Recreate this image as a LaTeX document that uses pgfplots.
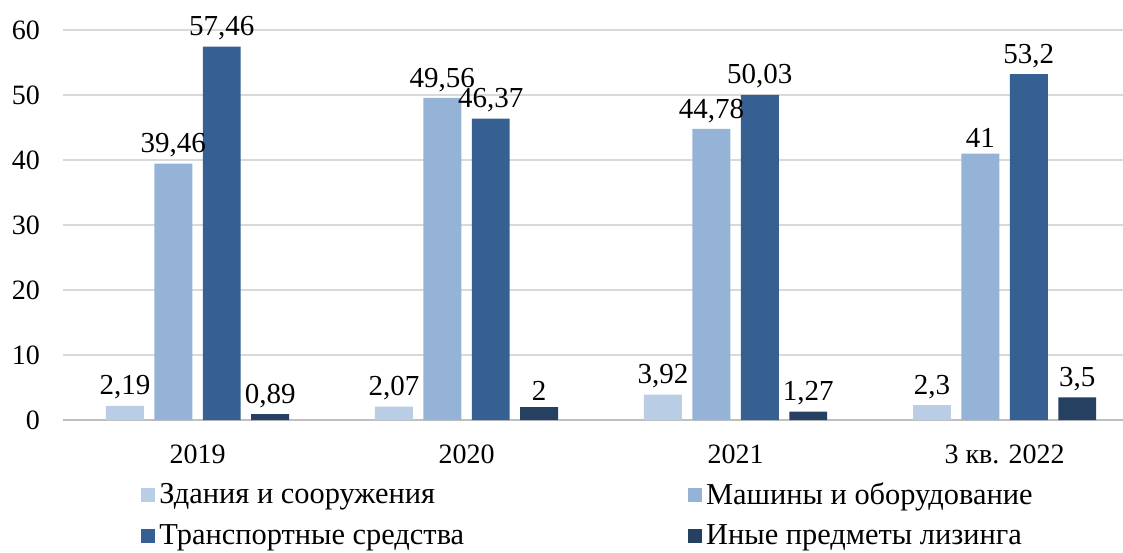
\documentclass[border=0pt]{standalone}
\usepackage{fontspec}
\setmainfont{Liberation Serif}
\usepackage{pgfplots}
\pgfplotsset{compat=1.18}
\definecolor{c1}{HTML}{B9CDE5}
\definecolor{c2}{HTML}{95B3D7}
\definecolor{c3}{HTML}{376092}
\definecolor{c4}{HTML}{254061}
\begin{document}
\begin{tikzpicture}[font=\fontsize{14}{16}\selectfont]
\useasboundingbox (-31.5pt,-66pt) rectangle (530pt,210pt);
\begin{axis}[
  at={(0,0)}, anchor=south west,
  scale only axis, width=530pt, height=195pt,
  ybar, bar width=0.141,
  xmin=-0.5, xmax=3.44, ymin=0, ymax=60,
  xtick={0,1,2,3}, xticklabels={2019,2020,2021,3 кв. 2022},
  ytick={0,10,...,60},
  major tick length=0pt,
  /pgf/number format/assume math mode=true,
  /pgf/number format/use comma,
  axis x line*=bottom, axis y line*=left,
  y axis line style={draw=none},
  x axis line style={-, draw={rgb,255:red,191;green,191;blue,191}, line width=1pt},
  ymajorgrids, grid style={draw={rgb,255:red,217;green,217;blue,217}, line width=1pt},
  yticklabel style={xshift=-8pt},
  xticklabel style={yshift=-9pt},
  nodes near coords,
  nodes near coords style={font=\fontsize{14.5}{16}\selectfont, inner sep=2pt, yshift=1pt},
  legend columns=2,
  legend cell align=left,
  legend style={draw=none, fill=none, at={(axis description cs:0.068,-0.14)}, anchor=north west,
    /tikz/every even column/.append style={column sep=110pt},
    row sep=4.5pt, font=\fontsize{15.2}{17}\selectfont},
  legend image code/.code={\fill[#1] (0pt,-3.5pt) rectangle (7pt,3.5pt);},
]
\addplot[fill=c1, draw=none, bar shift=-0.27] coordinates {(0,2.19) (1,2.07) (2,3.92) (3,2.3)};
\addplot[fill=c2, draw=none, bar shift=-0.09] coordinates {(0,39.46) (1,49.56) (2,44.78) (3,41)};
\addplot[fill=c3, draw=none, bar shift=0.09] coordinates {(0,57.46) (1,46.37) (2,50.03) (3,53.2)};
\addplot[fill=c4, draw=none, bar shift=0.27] coordinates {(0,0.89) (1,2) (2,1.27) (3,3.5)};
\legend{Здания и сооружения, Машины и оборудование, Транспортные средства, Иные предметы лизинга}
\end{axis}
\end{tikzpicture}
\end{document}
